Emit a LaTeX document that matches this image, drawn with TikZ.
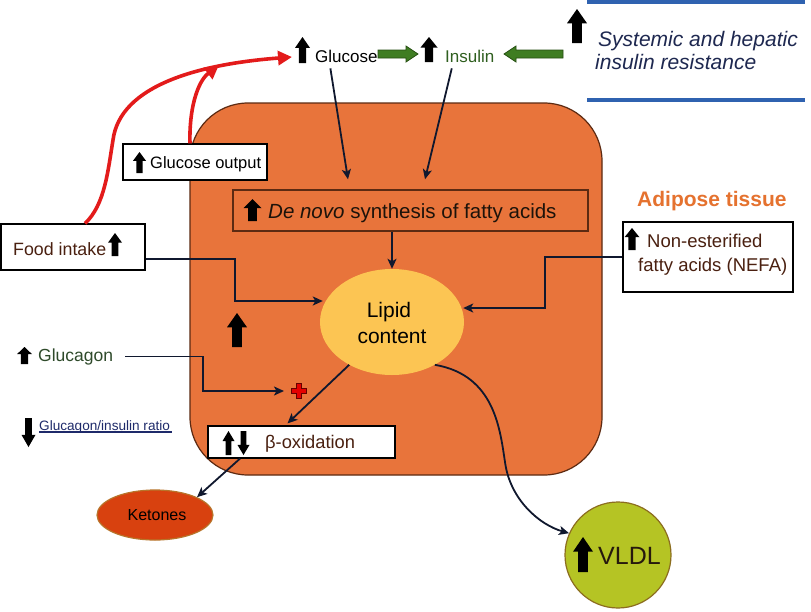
\documentclass[tikz,border=0pt]{standalone}
\usepackage{fontspec}
\setmainfont{Liberation Sans}
\usetikzlibrary{arrows.meta,calc,shapes.geometric}
\definecolor{liverfill}{HTML}{E8743B}
\definecolor{liverdraw}{HTML}{5C2A12}
\definecolor{lipidfill}{HTML}{FCC553}
\definecolor{ketfill}{HTML}{D8410F}
\definecolor{ketdraw}{HTML}{B8742A}
\definecolor{vldlfill}{HTML}{B5C424}
\definecolor{vldldraw}{HTML}{8C6D1F}
\definecolor{garrfill}{HTML}{3F7D22}
\definecolor{garrdraw}{HTML}{264F12}
\definecolor{instext}{HTML}{2F5F1F}
\definecolor{gcntext}{HTML}{2E4A2A}
\definecolor{browntext}{HTML}{4A2010}
\definecolor{navytext}{HTML}{1E2850}
\definecolor{ratiotext}{HTML}{1E2A6A}
\definecolor{blueline}{HTML}{2F62B0}
\definecolor{redcurve}{HTML}{E31B1B}
\definecolor{connc}{HTML}{10182E}
\definecolor{adipose}{HTML}{E5722F}
\newcommand{\fs}[1]{\fontsize{#1}{#1}\selectfont}
% up arrow: center x, top y, width, height
\newcommand{\UpArr}[4]{\fill[black] ({#1-0.24*#3},{#2+#4}) -- ({#1+0.24*#3},{#2+#4}) -- ({#1+0.24*#3},{#2+0.42*#4}) -- ({#1+0.5*#3},{#2+0.42*#4}) -- (#1,#2) -- ({#1-0.5*#3},{#2+0.42*#4}) -- ({#1-0.24*#3},{#2+0.42*#4}) -- cycle;}
% down arrow: center x, top y, width, height
\newcommand{\DnArr}[4]{\fill[black] ({#1-0.24*#3},#2) -- ({#1+0.24*#3},#2) -- ({#1+0.24*#3},{#2+0.58*#4}) -- ({#1+0.5*#3},{#2+0.58*#4}) -- (#1,{#2+#4}) -- ({#1-0.5*#3},{#2+0.58*#4}) -- ({#1-0.24*#3},{#2+0.58*#4}) -- cycle;}
% green block arrows
\newcommand{\GArrR}[3]{\filldraw[fill=garrfill,draw=garrdraw,line width=0.8pt] (#1,{#3-4}) -- ({#2-12},{#3-4}) -- ({#2-12},{#3-8}) -- (#2,#3) -- ({#2-12},{#3+8}) -- ({#2-12},{#3+4}) -- (#1,{#3+4}) -- cycle;}
\newcommand{\GArrL}[3]{\filldraw[fill=garrfill,draw=garrdraw,line width=0.8pt] (#2,{#3-4}) -- ({#1+12},{#3-4}) -- ({#1+12},{#3-8}) -- (#1,#3) -- ({#1+12},{#3+8}) -- ({#1+12},{#3+4}) -- (#2,{#3+4}) -- cycle;}
\begin{document}
\begin{tikzpicture}[x=1pt,y=-1pt,
  liver/.style={rectangle, rounded corners=58pt, fill=liverfill, draw=liverdraw, line width=1.2pt, minimum width=412pt, minimum height=372pt},
  wbox/.style={rectangle, fill=white, draw=black, line width=1.2pt, inner sep=0pt},
  txt/.style={inner sep=0pt, anchor=base west},
  conn/.style={draw=connc, line width=1.8pt, -{Stealth[length=10pt,width=9pt,inset=2.5pt]}},
  redc/.style={draw=redcurve, line width=3.6pt, -{Triangle[length=14pt,width=14pt]}},
  bline/.style={draw=blueline, line width=4pt}]
\useasboundingbox (0,0) rectangle (811,611);
\fill[white] (0,0) rectangle (811,611);

% liver
\node[liver] (liver) at (396,289) {};

% top row
\node[txt, font=\fs{17}] (glu) at (315,62) {Glucose};
\UpArr{302.5}{37}{15}{26}
\GArrR{378}{418}{54}
\node[txt, font=\fs{17}, text=instext] (ins) at (445,62) {Insulin};
\UpArr{429}{37}{17}{25}
\GArrL{504}{563}{54}
\UpArr{577}{9}{20}{34}
\node[txt, font=\fs{21}\itshape, text=navytext] (sys1) at (598,46) {Systemic and hepatic};
\node[txt, font=\fs{21}\itshape, text=navytext] (sys2) at (595,69) {insulin resistance};
\draw[bline] (587,2) -- (805,2);
\draw[bline] (587,100) -- (805,100);

% glucose output
\node[wbox, minimum width=144pt, minimum height=36pt] (gout) at (195,162) {};
\node[txt, font=\fs{16.5}] at (150,168) {Glucose output};
\UpArr{139.5}{152}{13}{21}

% food intake
\node[wbox, minimum width=144pt, minimum height=46pt] (food) at (73,247) {};
\node[txt, font=\fs{17.8}, text=browntext] at (13,255) {Food intake};
\UpArr{115}{233}{14}{23}

% de novo
\node[rectangle, draw=liverdraw, line width=1.4pt, minimum width=355pt, minimum height=41pt] (denovo) at (410.5,210.5) {};
\node[txt, font=\fs{20.5}, text=black!85!brown] at (268,218) {\textit{De novo} synthesis of fatty acids};
\UpArr{252.5}{199}{18}{22}

% lipid content
\node[ellipse, fill=lipidfill, minimum width=144pt, minimum height=106pt, inner sep=0pt] (lipid) at (392,322) {};
\node[anchor=base, inner sep=0pt, font=\fs{21}] at (389,317) {Lipid};
\node[anchor=base, inner sep=0pt, font=\fs{21}] at (392,343) {content};

% adipose + NEFA
\node[txt, font=\fs{21}\bfseries, text=adipose] (adip) at (637,206) {Adipose tissue};
\node[wbox, minimum width=170pt, minimum height=70pt] (nefa) at (708,257) {};
\node[txt, font=\fs{18.5}, text=browntext] at (647,247) {Non-esterified};
\node[txt, font=\fs{18.5}, text=browntext] at (638,271) {fatty acids (NEFA)};
\UpArr{632}{228}{15}{22}

% inner up arrow
\UpArr{237}{313}{20}{34}

% glucagon
\node[txt, font=\fs{17.5}, text=gcntext] (gcn) at (38,361) {Glucagon};
\UpArr{24.5}{347}{15}{17}
\coordinate (cross) at (299,391);
\filldraw[fill=red!90!black, draw=red!40!black, line width=0.7pt]
  ($(cross)+(-2.5,-7.5)$) -- ($(cross)+(2.5,-7.5)$) -- ($(cross)+(2.5,-2.5)$) -- ($(cross)+(7.5,-2.5)$) -- ($(cross)+(7.5,2.5)$) -- ($(cross)+(2.5,2.5)$) -- ($(cross)+(2.5,7.5)$) -- ($(cross)+(-2.5,7.5)$) -- ($(cross)+(-2.5,2.5)$) -- ($(cross)+(-7.5,2.5)$) -- ($(cross)+(-7.5,-2.5)$) -- ($(cross)+(-2.5,-2.5)$) -- cycle;

% ratio
\DnArr{28.5}{418}{14}{29}
\node[txt, font=\fs{13.6}, text=ratiotext] (ratio) at (39,430) {Glucagon/insulin ratio};
\draw[draw=ratiotext, line width=1.2pt] (ratio.south west) ++(0,-1) -- ++(133,0);

% beta oxidation
\node[wbox, minimum width=187pt, minimum height=32pt] (beta) at (301.5,442) {};
\node[txt, font=\fs{18.3}, text=browntext] at (265,448) {β-oxidation};
\UpArr{228.5}{431}{12}{24}
\DnArr{243.5}{431}{12}{24}

% ketones
\node[ellipse, fill=ketfill, draw=ketdraw, line width=1.2pt, minimum width=116pt, minimum height=50pt, inner sep=0pt] (ket) at (155,515) {};
\node[inner sep=0pt, font=\fs{16}] at (157,515) {Ketones};

% VLDL
\node[circle, fill=vldlfill, draw=vldldraw, line width=1.2pt, minimum size=106pt, inner sep=0pt] (vldl) at (618,555) {};
\node[txt, font=\fs{25}, text=black!80!brown] at (598,564) {VLDL};
\UpArr{583}{537}{20}{35}

% red curves
\coordinate (redtip) at (292,57);
\draw[redc] ([xshift=12pt]food.north) .. controls (105,205) and (108,170) .. (113,140) .. controls (120,85) and (200,64) .. (redtip);
\draw[redc] ([xshift=-5pt]gout.north) .. controls (189,110) and (197,82) .. (219,65);

% connectors
\draw[conn] ([xshift=-16pt,yshift=-6pt]glu.south) -- ([xshift=-62.5pt,yshift=10pt]denovo.north);
\draw[conn] ([xshift=-18pt,yshift=-6pt]ins.south) -- ([xshift=14.5pt,yshift=10pt]denovo.north);
\draw[conn] (denovo.south -| lipid.north) -- (lipid.north);
\coordinate (fk) at (235,301);
\draw[conn] ([yshift=-12pt]food.east) -| (fk) -- ([xshift=3pt]fk -| lipid.west);
\coordinate (nf) at (545,308);
\draw[conn] (nefa.west) -| (nf) -- ([xshift=-1pt]nf -| lipid.east);
\coordinate (gc) at (203,391);
\draw[conn] ([xshift=12pt]gcn.east) -| (gc) -- ([xshift=-15pt]cross);
\draw[conn] (lipid.225) -- ([xshift=-14pt,yshift=2pt]beta.north);
\draw[conn] ([xshift=-61.5pt]beta.south) -- (ket.23);
\draw[conn] (lipid.-45) .. controls (495,375) and (500,430) .. (505,462) .. controls (510,500) and (540,525) .. (vldl.156);
\end{tikzpicture}
\end{document}
